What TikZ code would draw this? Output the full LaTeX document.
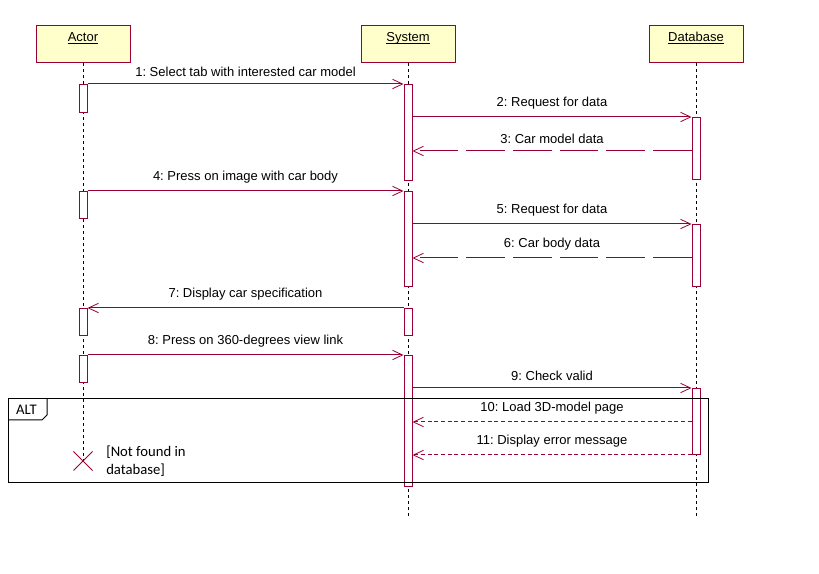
\documentclass[tikz,border=0pt]{standalone}
\usepackage{fontspec}
\setmainfont{Liberation Sans}
\newfontfamily\notefont{Carlito}
\usetikzlibrary{arrows.meta,calc}
\definecolor{umlred}{RGB}{153,0,51}
\definecolor{umlfill}{RGB}{255,255,204}
\newcommand\objname[1]{\underline{\raisebox{0pt}[\height][0pt]{#1}}}
\frenchspacing
\tikzset{
  objbox/.style={draw=umlred,fill=umlfill,line width=0.75pt,minimum width=70.5pt,minimum height=27.75pt,inner sep=0pt},
  objlbl/.style={anchor=north,inner sep=0pt,yshift=-5pt},
  lifeline/.style={black,line width=0.75pt,dash pattern=on 2.25pt off 2.25pt},
  actbar/.style={draw=umlred,fill=white,line width=0.75pt,minimum width=6pt,minimum height=#1*0.75pt,inner sep=0pt,anchor=north},
  msg/.style={umlred,line width=0.75pt,-{Straight Barb[length=7.5pt,width=7pt,line width=0.6pt]}},
  reply/.style={msg,dash pattern=on 29pt off 6pt},
  retn/.style={msg,dash pattern=on 3pt off 2pt},
  msglbl/.style={midway,above=3pt,inner sep=2.5pt,text=black}
}
\begin{document}
\begin{tikzpicture}[x=0.75pt,y=-0.75pt,font=\fontsize{9.75}{11}\selectfont]
  \useasboundingbox (0,0) rectangle (819,574);
  % objects
  \node[objbox,label={[objlbl]north:\objname{Actor}}] (actor) at (83,44.5) {};
  \node[objbox,label={[objlbl]north:\objname{System}}] (system) at (408,44.5) {};
  \node[objbox,label={[objlbl]north:\objname{Database}}] (db) at (696,44.5) {};
  % lifelines
  \coordinate (xend) at (83,461);
  \coordinate (send) at (408,516);
  \coordinate (dend) at (696,516);
  \draw[lifeline] (actor.south) -- (xend);
  \draw[lifeline] (system.south) -- (send);
  \draw[lifeline] (db.south) -- (dend);
  % activations
  \node[actbar=28] (a1) at (83,84) {};
  \node[actbar=96] (s1) at (408,84) {};
  \node[actbar=62] (d1) at (696,117) {};
  \node[actbar=27] (a2) at (83,191) {};
  \node[actbar=95] (s2) at (408,191) {};
  \node[actbar=62] (d2) at (696,224) {};
  \node[actbar=27] (a3) at (83,308) {};
  \node[actbar=27] (s3) at (408,308) {};
  \node[actbar=27] (a4) at (83,355) {};
  \node[actbar=131] (s4) at (408,355) {};
  \node[actbar=66] (d3) at (696,388) {};
  % messages
  \draw[msg] (a1.north east) -- node[msglbl] {1: Select tab with interested car model} (s1.north west);
  \draw[msg] (s1.east |- d1.north) -- node[msglbl] {2: Request for data} (d1.north west);
  \draw[reply] (d1.west |- 0,151) -- node[msglbl] {3: Car model data} (s1.east |- 0,151);
  \draw[msg] (a2.north east) -- node[msglbl] {4: Press on image with car body} (s2.north west);
  \draw[msg] (s2.east |- d2.north) -- node[msglbl] {5: Request for data} (d2.north west);
  \draw[reply] (d2.west |- 0,258) -- node[msglbl] {6: Car body data} (s2.east |- 0,258);
  \draw[msg] (s3.north west) -- node[msglbl] {7: Display car specification} (a3.north east);
  \draw[msg] (a4.north east) -- node[msglbl] {8: Press on 360-degrees view link} (s4.north west);
  \draw[msg] (s4.east |- d3.north) -- node[msglbl] {9: Check valid} (d3.north west);
  \draw[retn] (d3.west |- 0,422) -- node[msglbl] {10: Load 3D-model page} (s4.east |- 0,422);
  \draw[retn] (d3.west |- 0,455) -- node[msglbl] {11: Display error message} (s4.east |- 0,455);
  % alt fragment
  \draw[black,line width=0.75pt] (8,399) rectangle (708,483);
  \draw[black,line width=0.75pt] (8,420) -- (42,420) -- (47,415) -- (47,399);
  \node[font=\notefont\fontsize{11}{13}\selectfont] (alt) at (26.5,410) {ALT};
  % destroy
  \draw[umlred,line width=0.6pt] ($(xend)+(-9.5,-9.5)$) -- ($(xend)+(9.5,9.5)$)
    ($(xend)+(-9.5,9.5)$) -- ($(xend)+(9.5,-9.5)$);
  \node[anchor=north west,align=left,inner sep=0pt,font=\notefont\fontsize{11}{13.5}\selectfont] (guard) at (106,446) {[Not found in\\database]};
\end{tikzpicture}
\end{document}
